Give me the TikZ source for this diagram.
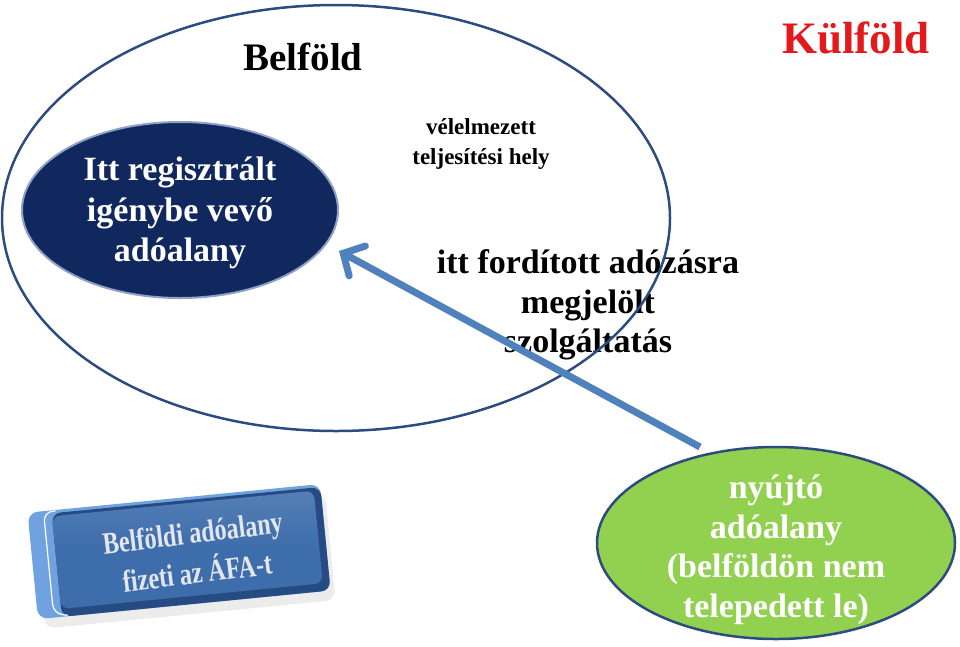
\documentclass[tikz,border=0pt]{standalone}
\usepackage{fontspec}
\setmainfont{Liberation Serif}
\usetikzlibrary{arrows.meta}
\definecolor{navy}{HTML}{10285E}
\definecolor{navyedge}{HTML}{8FA2C6}
\definecolor{lgreen}{HTML}{92D050}
\definecolor{darkline}{HTML}{2C4C80}
\definecolor{arrowblue}{HTML}{4F81BD}
\definecolor{kred}{HTML}{E3191C}
\definecolor{btnblue}{HTML}{3D6DAB}
\definecolor{btnlight}{HTML}{6FA2DE}
\definecolor{btndark}{HTML}{254B82}
\definecolor{btntext}{HTML}{E4E6EE}
\tikzset{
  txt/.style={align=center, inner sep=0pt},
  btnfont/.style={txt, text=btntext, rotate=7, font=\bfseries\fontsize{31}{34}\selectfont, xscale=0.78}
}
\begin{document}
\begin{tikzpicture}[x=1pt,y=-1pt]
\useasboundingbox (0,0) rectangle (960,646);
% texts behind lines
\node[txt, font=\bfseries\fontsize{23}{30}\selectfont] (hely) at (481,144) {vélelmezett\\teljesítési hely};
\node[txt, font=\bfseries\fontsize{34}{39.5}\selectfont] (szolg) at (588,305) {itt fordított adózásra\\megjelölt\\szolgáltatás};
\node[txt, font=\bfseries\fontsize{39}{40}\selectfont] (belf) at (303,57) {Belföld};
\node[txt, font=\bfseries\fontsize{45}{40}\selectfont, text=kred] (kulf) at (856,38) {Külföld};
% big ellipse
\draw[darkline, line width=2.5pt] (336,218) ellipse [x radius=334, y radius=213];
% dark ellipse
\draw[navyedge, line width=2pt, fill=navy] (180,210) ellipse [x radius=158, y radius=88];
\node[txt, text=white, font=\bfseries\fontsize{34}{40.5}\selectfont] (vevo) at (180,213) {Itt regisztrált\\igénybe vevő\\adóalany};
% green ellipse
\draw[darkline, line width=2.5pt, fill=lgreen] (776,543) ellipse [x radius=179, y radius=96];
\node[txt, text=white, font=\bfseries\fontsize{34}{39.5}\selectfont] (nyujto) at (776,550) {nyújtó\\adóalany\\(belföldön nem\\telepedett le)};
% arrow
\coordinate (astart) at (700,447);
\coordinate (aend) at (339,251);
\draw[arrowblue, line width=7pt, -{Straight Barb[length=16pt,width=34pt,line cap=round]}] (astart) -- (aend);
% button
\begin{scope}[shift={(180,551)}, rotate=5.6]
  \fill[black!30, opacity=0.25, rounded corners=10pt] (-142,-42) rectangle (150,64);
  \fill[rounded corners=10pt, btnlight] (-148,-53) rectangle (146,54);
  \fill[rounded corners=9pt, btndark] (-124,-50) rectangle (146,54);
  \shade[rounded corners=8pt, top color=btnblue!88!white, bottom color=btnblue, middle color=btnblue] (-124,-47) rectangle (139,46);
  \draw[white, line width=1.2pt, rounded corners=9pt] (-120,-52) -- (-132,-52) -- (-132,50) -- (-118,53);
\end{scope}
\node[btnfont] (btn1) at (193,536) {Belföldi adóalany};
\node[btnfont] (btn2) at (197,570) {fizeti az ÁFA-t};
\end{tikzpicture}
\end{document}
